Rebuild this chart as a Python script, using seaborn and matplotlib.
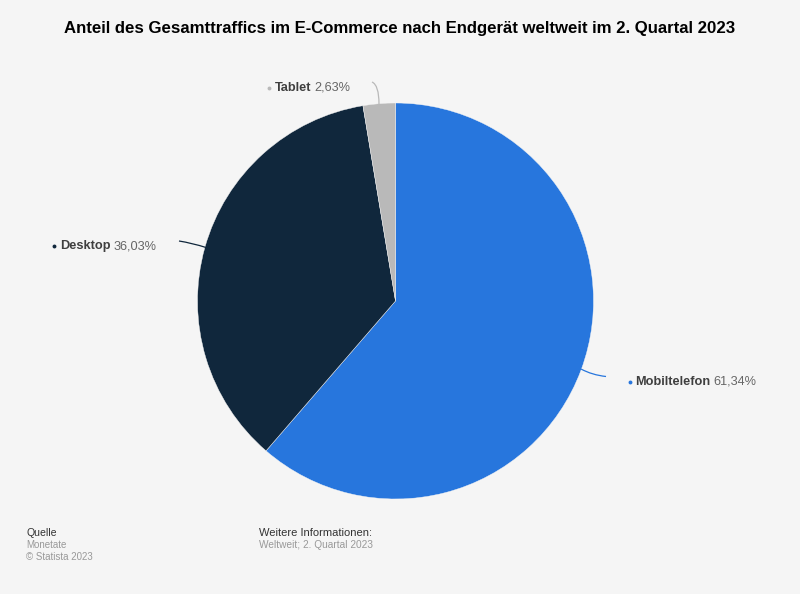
import matplotlib
matplotlib.use("Agg")
import matplotlib.pyplot as plt
from matplotlib.patches import PathPatch
from matplotlib.path import Path
import seaborn as sns

categories = ["Mobiltelefon", "Desktop", "Tablet"]
values = [61.34, 36.03, 2.63]
value_labels = ["61,34%", "36,03%", "2,63%"]
colors = ["#2776dd", "#10273c", "#b9b9b9"]

title = "Anteil des Gesamttraffics im E-Commerce nach Endgerät weltweit im 2. Quartal 2023"
source_head = "Quelle"
source_lines = ["Monetate", "© Statista 2023"]
info_head = "Weitere Informationen:"
info_lines = ["Weltweit; 2. Quartal 2023"]

BG = "#f5f5f5"
W, H = 800, 594
CX, CY, R = 395.5, 301, 198

sns.set_theme(style="white")
plt.rcParams["font.family"] = ["Liberation Sans", "DejaVu Sans"]

fig = plt.figure(figsize=(W / 100, H / 100), dpi=100, facecolor=BG)

# pie axes, sized so that radius 1 is R pixels
ax = fig.add_axes([(CX - R) / W, 1 - (CY + R) / H, 2 * R / W, 2 * R / H])
ax.pie(values, colors=colors, startangle=90, counterclock=False, radius=1,
       wedgeprops={"linewidth": 0.3, "edgecolor": "#f5f5f5"})
ax.set_xlim(-1, 1)
ax.set_ylim(-1, 1)

# overlay in pixel coordinates for labels and connector lines
ov = fig.add_axes([0, 0, 1, 1], facecolor="none")
ov.set_xlim(0, W)
ov.set_ylim(H, 0)
ov.axis("off")

ov.text(400, 29, title, ha="center", va="center", fontsize=12.07,
        fontweight="bold", color="#000000")

renderer = fig.canvas.get_renderer()


def slice_label(x, y, name, val, color):
    ov.plot([x], [y - 3.5], marker="o", ms=2.8, color=color, mew=0)
    t = ov.text(x + 6, y, name, ha="left", va="baseline", fontsize=9.2,
                fontweight="bold", color="#3f3f3f")
    bb = t.get_window_extent(renderer)
    ov.text(bb.x1 + 3, y, val, ha="left", va="baseline", fontsize=9.2,
            color="#666666")


slice_label(629.5, 385, categories[0], value_labels[0], colors[0])
slice_label(54, 249.5, categories[1], value_labels[1], colors[1])
slice_label(268.5, 91, categories[2], value_labels[2], colors[2])


def connector(p0, p1, p2, color):
    path = Path([p0, p1, p2], [Path.MOVETO, Path.CURVE3, Path.CURVE3])
    ov.add_patch(PathPatch(path, fc="none", ec=color, lw=0.9))


connector((581, 369), (592, 375), (606, 376.5), colors[0])
connector((206, 247.5), (192, 243), (179, 241), colors[1])
connector((379, 104), (379, 85), (372, 82), colors[2])

# footer
ov.text(26.5, 532.5, source_head, ha="left", va="center", fontsize=7.6, color="#333333")
for i, line in enumerate(source_lines):
    ov.text(26.5, 545.5 + i * 12, line, ha="left", va="center", fontsize=7.0, color="#999999")
ov.text(259, 532.5, info_head, ha="left", va="center", fontsize=8.0, color="#333333")
for i, line in enumerate(info_lines):
    ov.text(259, 545.5 + i * 12, line, ha="left", va="center", fontsize=7.3, color="#999999")

fig.savefig("out.png", dpi=100, facecolor=BG)
